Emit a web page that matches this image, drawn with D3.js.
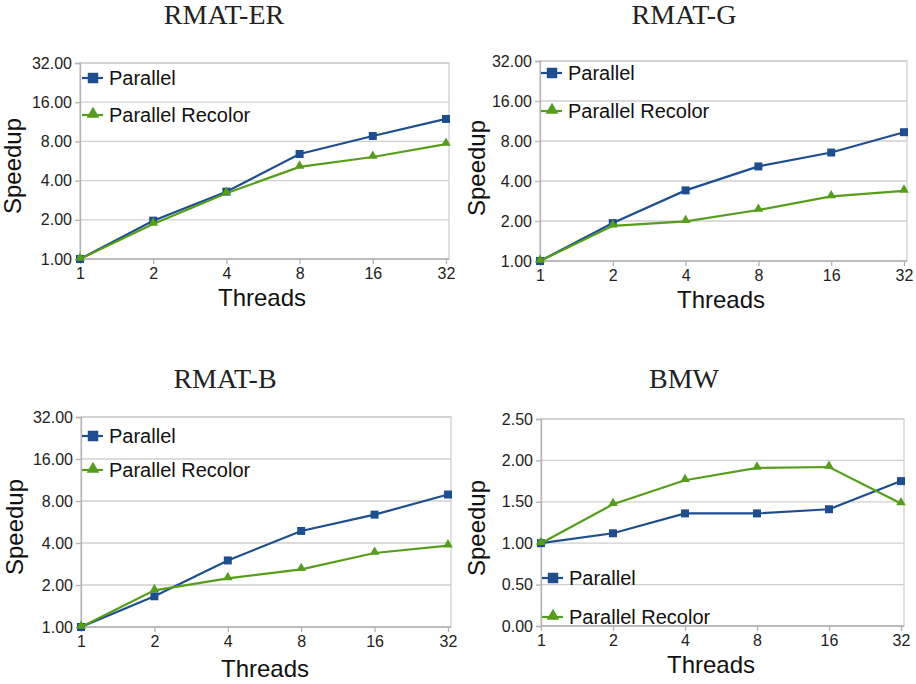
<!DOCTYPE html>
<html>
<head>
<meta charset="utf-8">
<script src="https://cdn.jsdelivr.net/npm/d3@7"></script>
<style>
  body { margin: 0; background: #fff; }
  svg text { font-family: "Liberation Sans", Arial, sans-serif; }
</style>
</head>
<body>
<script>
var threads = ["1", "2", "4", "8", "16", "32"];
var seriesNames = ["Parallel", "Parallel Recolor"];
var titles = ["RMAT-ER", "RMAT-G", "RMAT-B", "BMW"];

var erParallel = [1, 1.97, 3.29, 6.4, 8.8, 11.9];
var erRecolor = [1, 1.86, 3.2, 5.1, 6.07, 7.63];
var gParallel = [1, 1.93, 3.4, 5.15, 6.55, 9.32];
var gRecolor = [1, 1.84, 1.99, 2.42, 3.06, 3.37];
var bParallel = [1, 1.66, 3.0, 4.88, 6.39, 8.9];
var bRecolor = [1, 1.83, 2.23, 2.59, 3.39, 3.83];
var bmwParallel = [1, 1.12, 1.36, 1.36, 1.41, 1.75];
var bmwRecolor = [1, 1.47, 1.76, 1.91, 1.92, 1.48];

var logTicks = [1, 2, 4, 8, 16, 32];
var linTicks = [0, 0.5, 1, 1.5, 2, 2.5];

var colors = ["#1f4e8e", "#579d1c"];

var w = 916, h = 684;
var svg = d3.select("body").append("svg").attr("width", w).attr("height", h);

// layout of each panel (pixels)
var panels = [
  {title: titles[0], data: [erParallel, erRecolor], log: true,
   x1: 80, x32: 446, right: 449, top: 63, bottom: 259, tx: 224, ty: 24,
   lx: 21, ly: 166, bx: 262, by: 306, legX: 93, legY: [78, 115]},
  {title: titles[1], data: [gParallel, gRecolor], log: true,
   x1: 540, x32: 904, right: 907, top: 61, bottom: 261, tx: 684, ty: 24,
   lx: 485, ly: 168, bx: 721, by: 308, legX: 552, legY: [73, 111]},
  {title: titles[2], data: [bParallel, bRecolor], log: true,
   x1: 81, x32: 448, right: 451, top: 417, bottom: 627, tx: 225, ty: 388,
   lx: 23, ly: 527, bx: 265, by: 677, legX: 93, legY: [436, 470]},
  {title: titles[3], data: [bmwParallel, bmwRecolor], log: false,
   x1: 541, x32: 901, right: 904, top: 419, bottom: 626, tx: 684, ty: 388,
   lx: 485, ly: 528, bx: 711, by: 673, legX: 553, legY: [578, 617]}
];

panels.forEach(function(p) {
  var g = svg.append("g");
  var x = d3.scalePoint().domain(threads).range([p.x1, p.x32]);
  var y = p.log
    ? d3.scaleLog().base(2).domain([1, 32]).range([p.bottom, p.top])
    : d3.scaleLinear().domain([0, 2.5]).range([p.bottom, p.top]);
  var ticks = p.log ? logTicks : linTicks;

  // grid
  g.selectAll(".grid").data(ticks).enter().append("line")
    .attr("x1", p.x1).attr("x2", p.right)
    .attr("y1", function(d) { return y(d); })
    .attr("y2", function(d) { return y(d); })
    .attr("stroke", "#cfcfcf").attr("stroke-width", 1.3);

  // frame
  g.append("rect")
    .attr("x", p.x1).attr("y", p.top)
    .attr("width", p.right - p.x1).attr("height", p.bottom - p.top)
    .attr("fill", "none").attr("stroke", "#cfcfcf").attr("stroke-width", 1.3);

  // y axis
  var yAxis = g.append("g").attr("transform", "translate(" + p.x1 + ",0)")
    .call(d3.axisLeft(y).tickValues(ticks).tickFormat(d3.format(".2f")).tickSize(5).tickPadding(3));
  yAxis.select(".domain").attr("stroke", "#b3b3b3").attr("stroke-width", 1.3);
  yAxis.selectAll(".tick line").attr("stroke", "#b3b3b3").attr("stroke-width", 1.3);
  yAxis.selectAll("text").attr("font-size", 16).attr("fill", "#222")
    .style("font-family", "Liberation Sans, Arial, sans-serif");

  // x axis
  var xAxis = g.append("g").attr("transform", "translate(0," + p.bottom + ")")
    .call(d3.axisBottom(x).tickSize(5).tickPadding(4));
  xAxis.select(".domain").attr("stroke", "#b3b3b3").attr("stroke-width", 1.3)
    .attr("d", "M" + p.x1 + ",0H" + p.right);
  xAxis.selectAll(".tick line").attr("stroke", "#b3b3b3").attr("stroke-width", 1.3);
  xAxis.selectAll("text").attr("font-size", 16).attr("fill", "#222")
    .style("font-family", "Liberation Sans, Arial, sans-serif");

  // titles
  g.append("text").attr("x", p.tx).attr("y", p.ty)
    .attr("text-anchor", "middle").attr("font-size", 28).attr("fill", "#222")
    .style("font-family", "Liberation Serif, Times New Roman, serif")
    .text(p.title);

  g.append("text")
    .attr("transform", "translate(" + p.lx + "," + p.ly + ") rotate(-90)")
    .attr("text-anchor", "middle").attr("font-size", 24).attr("fill", "#111")
    .text("Speedup");

  g.append("text").attr("x", p.bx).attr("y", p.by)
    .attr("text-anchor", "middle").attr("font-size", 24).attr("fill", "#111")
    .text("Threads");

  // series
  var line = d3.line()
    .x(function(d, i) { return x(threads[i]); })
    .y(function(d) { return y(d); });

  p.data.forEach(function(vals, s) {
    g.append("path").datum(vals)
      .attr("d", line)
      .attr("fill", "none").attr("stroke", colors[s]).attr("stroke-width", 2.2);

    var sym = d3.symbol().type(s == 0 ? d3.symbolSquare : d3.symbolTriangle).size(s == 0 ? 64 : 40);
    g.selectAll(".m" + s).data(vals).enter().append("path")
      .attr("d", sym)
      .attr("transform", function(d, i) {
        return "translate(" + x(threads[i]) + "," + (y(d) + (s == 1 ? -1 : 0)) + ")";
      })
      .attr("fill", colors[s]);

    // legend
    var ly = p.legY[s];
    g.append("line")
      .attr("x1", p.legX - 11).attr("x2", p.legX + 10)
      .attr("y1", ly).attr("y2", ly)
      .attr("stroke", colors[s]).attr("stroke-width", 2.2);
    var lsym = d3.symbol().type(s == 0 ? d3.symbolSquare : d3.symbolTriangle).size(s == 0 ? 110 : 70);
    g.append("path").attr("d", lsym)
      .attr("transform", "translate(" + p.legX + "," + (ly + (s == 1 ? -1 : 0)) + ")")
      .attr("fill", colors[s]);
    g.append("text")
      .attr("x", p.legX + 16).attr("y", ly + 7)
      .attr("font-size", 20).attr("fill", "#111")
      .text(seriesNames[s]);
  });
});
</script>
</body>
</html>
